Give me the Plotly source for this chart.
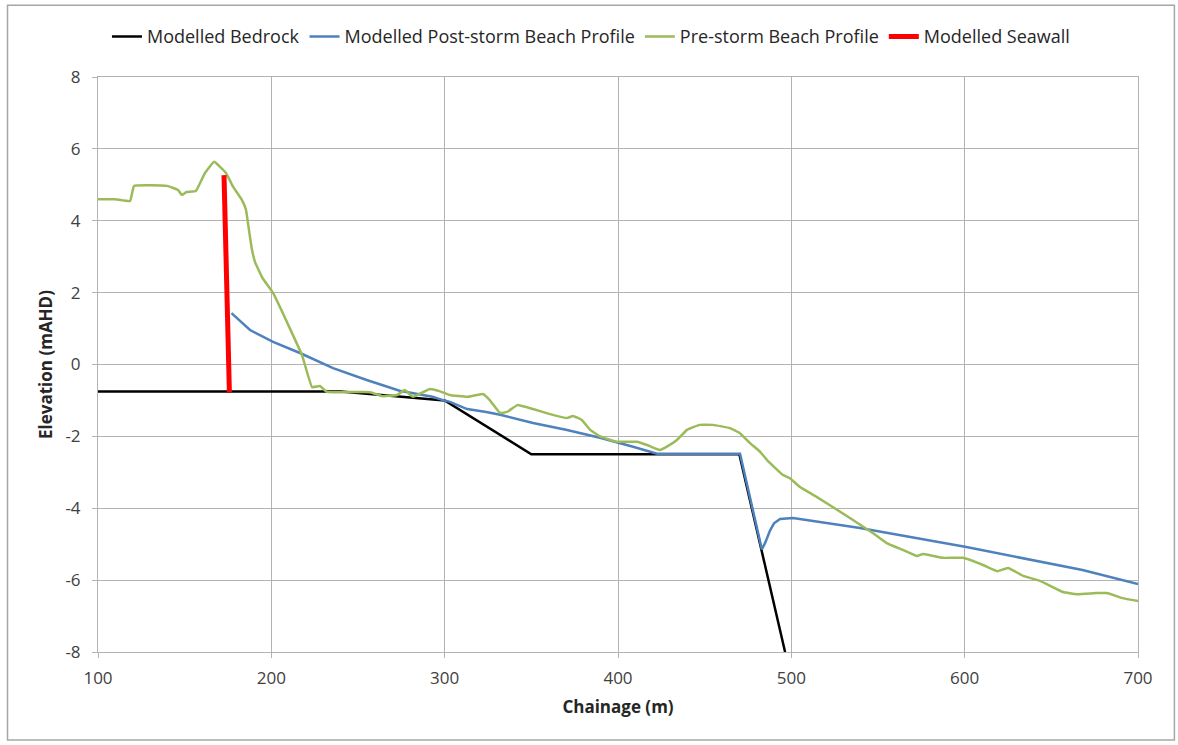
import plotly.graph_objects as go

# Modelled bedrock surface
bedrock_x = [100, 240, 300, 350, 470, 496.4]
bedrock_y = [-0.75, -0.75, -1.0, -2.5, -2.5, -8.0]

# Modelled post-storm beach profile
post_x = [177, 180, 187.7, 201, 216.5, 235.6, 255, 274, 293, 299, 303, 313, 324, 332, 351,
          370.6, 389.6, 408.7, 422.5, 470.4, 476, 483, 485, 487.7, 490, 493.5, 501, 539.6, 601, 668, 700]
post_y = [1.43, 1.3, 0.96, 0.63, 0.32, -0.1, -0.43, -0.73, -0.9, -0.99, -1.04, -1.24, -1.32, -1.4, -1.63,
          -1.82, -2.04, -2.29, -2.48, -2.48, -3.7, -5.15, -4.95, -4.62, -4.42, -4.3, -4.27, -4.55, -5.08, -5.72, -6.11]

# Pre-storm beach profile
pre_x = [100, 110, 118.5, 120.8, 139.8, 146, 148.5, 151, 156.5, 161.7, 167, 173.8, 178, 183,
         185.4, 186.5, 188.8, 190.6, 195, 201, 217.7, 223.5, 228, 232, 257, 264, 272.5, 277,
         281.7, 291.5, 297, 303, 313, 322, 326, 332, 336, 342, 351, 360.8, 370.6, 374, 379,
         384, 389.6, 399, 411, 416.7, 424, 428, 434, 439.8, 447, 454.8, 464.6, 470, 476, 482,
         486, 495, 499, 505, 514.8, 533.8, 547, 555, 564.4, 572.5, 576, 587.5, 599, 610.6,
         618.7, 625, 633.7, 643.5, 656.7, 664.8, 676, 682, 691, 700]
pre_y = [4.6, 4.6, 4.55, 4.97, 4.97, 4.86, 4.72, 4.8, 4.83, 5.33, 5.64, 5.33, 4.94, 4.58,
         4.3, 3.94, 3.2, 2.85, 2.4, 1.99, 0.26, -0.63, -0.6, -0.76, -0.77, -0.88, -0.85, -0.71,
         -0.9, -0.68, -0.74, -0.85, -0.9, -0.82, -0.99, -1.35, -1.32, -1.13, -1.24, -1.38, -1.49, -1.43, -1.54,
         -1.82, -2.0, -2.15, -2.15, -2.24, -2.38, -2.29, -2.1, -1.82, -1.68, -1.68, -1.77, -1.9, -2.18, -2.43,
         -2.66, -3.07, -3.16, -3.41, -3.69, -4.27, -4.69, -4.97, -5.16, -5.33, -5.27, -5.38, -5.38, -5.58,
         -5.75, -5.66, -5.88, -6.02, -6.33, -6.39, -6.36, -6.36, -6.5, -6.58]

# Modelled seawall
wall_x = [172.7, 175.8]
wall_y = [5.27, -0.78]

# Axis ticks (labels written with a plain hyphen for negatives)
x_ticks = [100, 200, 300, 400, 500, 600, 700]
y_ticks = [-8, -6, -4, -2, 0, 2, 4, 6, 8]
y_tick_text = [str(v) for v in y_ticks]

font_family = "Open Sans, Liberation Sans, sans-serif"

fig = go.Figure()
fig.add_trace(go.Scatter(x=bedrock_x, y=bedrock_y, mode="lines", name="Modelled Bedrock",
                         line=dict(color="#000000", width=2.5)))
fig.add_trace(go.Scatter(x=post_x, y=post_y, mode="lines", name="Modelled Post-storm Beach Profile",
                         line=dict(color="#4f81bd", width=2.5)))
fig.add_trace(go.Scatter(x=pre_x, y=pre_y, mode="lines", name="Pre-storm Beach Profile",
                         line=dict(color="#9bbb59", width=2.5, shape="spline", smoothing=0.3)))
fig.add_trace(go.Scatter(x=wall_x, y=wall_y, mode="lines", name="Modelled Seawall",
                         line=dict(color="#ff0000", width=5)))

axis_common = dict(
    showgrid=True, gridcolor="#b3b3b3", gridwidth=1,
    showline=True, linecolor="#b3b3b3", linewidth=1, mirror=True,
    ticks="outside", ticklen=5, tickcolor="#b3b3b3",
    zeroline=False,
    tickfont=dict(family=font_family, size=17, color="#404040"),
)

fig.update_layout(
    width=1178, height=745,
    margin=dict(l=98, r=40, t=77, b=93),
    paper_bgcolor="white", plot_bgcolor="white",
    font=dict(family=font_family, size=17, color="#262626"),
    xaxis=dict(range=[100, 700], tickvals=x_ticks, ticklabelstandoff=6,
               title=dict(text="<b>Chainage (m)</b>", font=dict(size=17, color="#262626"), standoff=12),
               **axis_common),
    yaxis=dict(range=[-8, 8], tickvals=y_ticks, ticktext=y_tick_text, ticklabelstandoff=8,
               title=dict(text="<b>Elevation (mAHD)</b>", font=dict(size=17, color="#262626"), standoff=8),
               **axis_common),
    legend=dict(orientation="h", x=0.474, xanchor="center", y=1.07, yanchor="middle",
                font=dict(size=18, color="#262626"), itemwidth=30, tracegroupgap=0,
                bgcolor="rgba(0,0,0,0)"),
    shapes=[dict(type="rect", xref="paper", yref="paper",
                 x0=-0.087, x1=1.035, y0=-0.153, y1=1.125,
                 line=dict(color="#a6a6a6", width=1.5), fillcolor="rgba(0,0,0,0)", layer="below")],
)

fig.write_html("out.html")
